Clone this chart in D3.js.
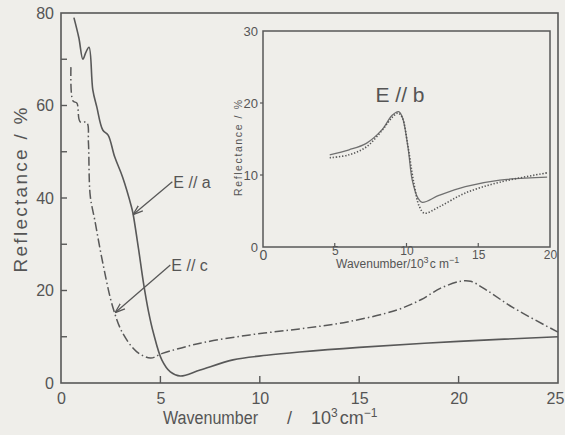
<!DOCTYPE html>
<html>
<head>
<meta charset="utf-8">
<script src="https://cdn.jsdelivr.net/npm/d3@7"></script>
<style>
  html, body { margin: 0; padding: 0; background: #efeeea; }
  svg { display: block; }
  text { font-family: "Liberation Sans", Arial, sans-serif; fill: #555; }
</style>
</head>
<body>
<svg id="chart" width="565" height="435"></svg>
<script>
// ---- Main panel data (wavenumber in 10^3 cm^-1, reflectance in %) ----
const eaX = [0.65, 0.9, 1.1, 1.25, 1.41, 1.6, 1.8, 2.1, 2.37, 2.7, 3.1, 3.55, 3.62, 3.9, 4.15, 4.4, 4.65, 5.07, 5.5, 6.0, 7.0, 8.65, 10.35, 12, 15, 20, 25];
const eaY = [79, 74.6, 70, 71.5, 72.6, 63.4, 59.7, 54.7, 53.6, 48.9, 44.5, 38, 36.7, 29, 21.6, 15.5, 10.8, 5, 2.4, 1.5, 2.8, 5, 6, 6.7, 7.7, 9, 10];

const ecX = [0.5, 0.6, 0.8, 0.96, 1.3, 1.38, 1.47, 1.7, 2.1, 2.6, 3.1, 3.8, 4.5, 5.1, 7, 9.5, 12, 14.4, 16.9, 18.1, 19.1, 20.1, 20.6, 21.4, 22.7, 25];
const ecY = [68.3, 61, 60.5, 56.5, 56.3, 52, 40.5, 35.2, 26, 16.5, 10.8, 6.8, 5.4, 6.4, 8.6, 10.4, 11.7, 13.2, 15.8, 18, 20.5, 22, 22, 20.1, 16.4, 11];

const mainXTicks = [0, 5, 10, 15, 20, 25];
const mainYTicks = [0, 20, 40, 60, 80];
const mainYMinor = [10, 30, 50, 70];

// ---- Inset (E // b) data ----
const ebSolidX = [4.65, 6.0, 7.2, 8.3, 9.0, 9.45, 9.7, 10.1, 10.4, 10.8, 11.1, 12.3, 14.1, 16.5, 19.8];
const ebSolidY = [12.8, 13.5, 14.4, 16.3, 18.3, 18.8, 18.1, 13.9, 9.3, 6.8, 6.2, 7.2, 8.4, 9.3, 9.7];
const ebDotX = [4.65, 6.0, 7.2, 8.3, 9.0, 9.4, 9.7, 10.1, 10.5, 10.9, 11.25, 12.3, 14.1, 16.5, 19.8];
const ebDotY = [12.4, 12.8, 13.9, 16.2, 18.0, 18.6, 18.0, 14, 9, 5.6, 4.7, 5.6, 7.5, 9.0, 10.3];

const insetXTicks = [0, 5, 10, 15, 20];
const insetYTicks = [0, 10, 20, 30];

// annotation arrows: [labelX, labelY, tipX, tipY] in data units
const annA = [5.6, 43.5, 3.62, 36.4];
const annC = [5.5, 25.5, 2.72, 15.2];

const ink = "#585858";
const svg = d3.select("#chart");

// ---------- Main panel ----------
const x = d3.scaleLinear().domain([0, 25]).range([61, 558]);
const y = d3.scaleLinear().domain([0, 80]).range([383, 13]);

const main = svg.append("g");
main.append("rect").attr("x", 61).attr("y", 13).attr("width", 558 - 61).attr("height", 383 - 13)
  .attr("fill", "none").attr("stroke", ink).attr("stroke-width", 1.6);

// x axis
const xAxis = d3.axisBottom(x).tickValues(mainXTicks).tickSize(0).tickPadding(10).tickFormat(d3.format("d"));
const gx = main.append("g").attr("transform", "translate(0,383)").call(xAxis);
gx.select(".domain").remove();
gx.selectAll("text").style("font-size", "16px").attr("fill", "#555")
  .attr("dx", d => d === 25 ? -3 : 0);
gx.selectAll(".tk").data(mainXTicks.filter(d => d > 0 && d < 25)).enter().append("line")
  .attr("x1", d => x(d)).attr("x2", d => x(d)).attr("y1", 0).attr("y2", -7)
  .attr("stroke", ink).attr("stroke-width", 1.4);

// y axis
const yAxis = d3.axisLeft(y).tickValues(mainYTicks).tickSize(0).tickPadding(7).tickFormat(d3.format("d"));
const gy = main.append("g").attr("transform", "translate(61,0)").call(yAxis);
gy.select(".domain").remove();
gy.selectAll("text").style("font-size", "16px").attr("fill", "#555");
gy.selectAll(".tk").data(mainYTicks.filter(d => d > 0 && d < 80).concat(mainYMinor)).enter().append("line")
  .attr("x1", 0).attr("x2", 6).attr("y1", d => y(d)).attr("y2", d => y(d))
  .attr("stroke", ink).attr("stroke-width", 1.4);

// axis titles
const tg = main.append("g").style("font-size", "18px");
tg.append("text").attr("x", 163).attr("y", 424).attr("textLength", 95).attr("lengthAdjust", "spacingAndGlyphs").text("Wavenumber");
tg.append("text").attr("x", 287).attr("y", 424).text("/");
const t10 = tg.append("text").attr("x", 311).attr("y", 424);
t10.append("tspan").text("10");
t10.append("tspan").attr("dy", -7).style("font-size", "12px").text("3");
t10.append("tspan").attr("dy", 7).attr("dx", 2).text("cm");
t10.append("tspan").attr("dy", -7).style("font-size", "12px").text("−1");

main.append("text").attr("transform", "translate(27,190) rotate(-90)")
  .attr("text-anchor", "middle").style("font-size", "19px")
  .attr("textLength", 165).attr("lengthAdjust", "spacing")
  .text("Reflectance / %");

const curve = d3.curveCatmullRom.alpha(0.5);
const line = d3.line().x(d => x(d[0])).y(d => y(d[1])).curve(curve);

main.append("path").datum(eaX.map((v, i) => [v, eaY[i]]))
  .attr("d", line).attr("fill", "none").attr("stroke", ink).attr("stroke-width", 1.6);
main.append("path").datum(ecX.map((v, i) => [v, ecY[i]]))
  .attr("d", line).attr("fill", "none").attr("stroke", ink).attr("stroke-width", 1.5)
  .attr("stroke-dasharray", "9,3,1.5,3");

// arrows
svg.append("defs").append("marker").attr("id", "arr").attr("viewBox", "0 0 10 10")
  .attr("refX", 10).attr("refY", 5).attr("markerWidth", 10).attr("markerHeight", 10)
  .attr("orient", "auto").attr("markerUnits", "userSpaceOnUse")
  .append("path").attr("d", "M0,1.5 L10,5 L0,8.5").attr("fill", "none").attr("stroke", ink).attr("stroke-width", 1.3);

function ann(a, label) {
  main.append("line").attr("x1", x(a[0])).attr("y1", y(a[1])).attr("x2", x(a[2])).attr("y2", y(a[3]))
    .attr("stroke", ink).attr("stroke-width", 1.3).attr("marker-end", "url(#arr)");
  main.append("text").attr("x", x(a[0]) + 1).attr("y", y(a[1]) + 6).style("font-size", "16px").text(label);
}
ann(annA, "E // a");
ann(annC, "E // c");

// ---------- Inset ----------
const ix = d3.scaleLinear().domain([0, 20]).range([263, 550]);
const iy = d3.scaleLinear().domain([0, 30]).range([247, 31]);
const inset = svg.append("g");
inset.append("rect").attr("x", 263).attr("y", 31).attr("width", 550 - 263).attr("height", 247 - 31)
  .attr("fill", "none").attr("stroke", ink).attr("stroke-width", 1.5);

const ixAxis = d3.axisBottom(ix).tickValues(insetXTicks).tickSize(0).tickPadding(3).tickFormat(d3.format("d"));
const gix = inset.append("g").attr("transform", "translate(0,247)").call(ixAxis);
gix.select(".domain").remove();
gix.selectAll("text").style("font-size", d => d === 0 ? "14px" : "12px").attr("fill", "#555")
  .attr("dy", d => (d === 5 || d === 10) ? "0.45em" : "0.71em");
gix.selectAll(".tk").data(insetXTicks.filter(d => d > 0 && d < 20)).enter().append("line")
  .attr("x1", d => ix(d)).attr("x2", d => ix(d)).attr("y1", 0).attr("y2", -4)
  .attr("stroke", ink).attr("stroke-width", 1.2);

const iyAxis = d3.axisLeft(iy).tickValues(insetYTicks).tickSize(0).tickPadding(5).tickFormat(d3.format("d"));
const giy = inset.append("g").attr("transform", "translate(263,0)").call(iyAxis);
giy.select(".domain").remove();
giy.selectAll("text").style("font-size", "13px").attr("fill", "#555");
giy.selectAll(".tk").data([10, 20]).enter().append("line")
  .attr("x1", -3).attr("x2", 0).attr("y1", d => iy(d)).attr("y2", d => iy(d))
  .attr("stroke", ink).attr("stroke-width", 1.2);

const ixt = inset.append("text").attr("x", 336).attr("y", 268).style("font-size", "12px");
ixt.append("tspan").text("Wavenumber/10");
ixt.append("tspan").attr("dy", -5).style("font-size", "9px").text("3");
ixt.append("tspan").attr("dy", 5).attr("dx", 1).text("c m");
ixt.append("tspan").attr("dy", -5).style("font-size", "9px").text("−1");

inset.append("text").attr("transform", "translate(242,148) rotate(-90)")
  .attr("text-anchor", "middle").style("font-size", "10.5px")
  .attr("textLength", 96).attr("lengthAdjust", "spacing")
  .text("Reflectance  /  %");

inset.append("text").attr("x", 400).attr("y", 102).attr("text-anchor", "middle")
  .style("font-size", "21px").text("E // b");

const iline = d3.line().x(d => ix(d[0])).y(d => iy(d[1])).curve(curve);
inset.append("path").datum(ebSolidX.map((v, i) => [v, ebSolidY[i]]))
  .attr("d", iline).attr("fill", "none").attr("stroke", "#707070").attr("stroke-width", 1.3);
inset.append("path").datum(ebDotX.map((v, i) => [v, ebDotY[i]]))
  .attr("d", iline).attr("fill", "none").attr("stroke", "#555").attr("stroke-width", 1.6)
  .attr("stroke-dasharray", "1.3,1.8");
</script>
</body>
</html>
